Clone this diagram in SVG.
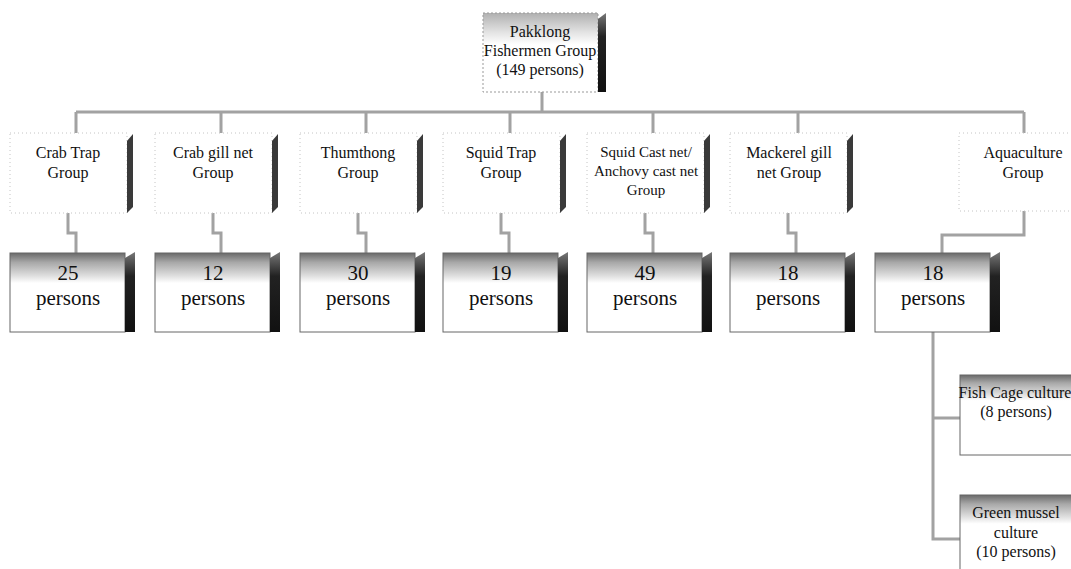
<svg xmlns="http://www.w3.org/2000/svg" width="1071" height="569" viewBox="0 0 1071 569" font-family="'Liberation Serif', 'Times New Roman', 'DejaVu Serif', serif">
<style>
text{font-family:'Liberation Serif','Times New Roman','DejaVu Serif',serif}
.t{font-size:16px;fill:#111;text-anchor:middle}
.p{font-size:21px;fill:#111;text-anchor:middle}
.grp{fill:#fff;stroke:#c4c4c4;stroke-width:1;stroke-dasharray:1 3}
.sh{fill:#3a3a3a}
.pb{fill:url(#pg);stroke:#666;stroke-width:1}
.cn{fill:none;stroke:#a2a2a2;stroke-width:3}
</style>
<defs>
<linearGradient id="pg" x1="0" y1="0" x2="0" y2="1">
<stop offset="0" stop-color="#6a6a6a"/>
<stop offset="0.12" stop-color="#a8a8a8"/>
<stop offset="0.3" stop-color="#e2e2e2"/>
<stop offset="0.38" stop-color="#fff"/>
<stop offset="1" stop-color="#fff"/>
</linearGradient>
<linearGradient id="fg" x1="0" y1="0" x2="0" y2="1">
<stop offset="0" stop-color="#6a6a6a"/>
<stop offset="0.1" stop-color="#a8a8a8"/>
<stop offset="0.25" stop-color="#e2e2e2"/>
<stop offset="0.32" stop-color="#fff"/>
<stop offset="1" stop-color="#fff"/>
</linearGradient>
<linearGradient id="tg" x1="0" y1="0" x2="0" y2="1">
<stop offset="0" stop-color="#b0b0b0"/>
<stop offset="0.25" stop-color="#e4e4e4"/>
<stop offset="0.4" stop-color="#fff"/>
<stop offset="1" stop-color="#fff"/>
</linearGradient>
<linearGradient id="sg" x1="0" y1="0" x2="0" y2="1">
<stop offset="0" stop-color="#777"/>
<stop offset="0.3" stop-color="#222"/>
<stop offset="1" stop-color="#111"/>
</linearGradient>
</defs>

<g id="connectors">
<path class="cn" d="M542 92V112M76 112H1024M76 112V133M221 112V133M366 112V133M510 112V133M653 112V133M798 112V133M1024 112V133"/>
<path class="cn" d="M68 213V233H76V253M213 213V233H221V253M358 213V233H366V253M501 213V233H509V253M645 213V233H653V253M788 213V233H796V253M1024 211V235H942V253"/>
<path class="cn" d="M933 332V539H960M933 418H960"/>
</g>

<g id="top">
<rect x="483" y="13" width="115" height="79" fill="url(#tg)" stroke="#999" stroke-width="1" stroke-dasharray="2 2"/>
<polygon points="598,19 606,13 606,92 598,92" fill="url(#sg)"/>
<text class="t" x="540" y="37">Pakklong</text>
<text class="t" x="540" y="56">Fishermen Group</text>
<text class="t" x="540" y="75">(149 persons)</text>
</g>

<g id="g1"><rect class="grp" x="10" y="133" width="117" height="80"/><polygon class="sh" points="127,141 133,134 133,207 127,213"/>
<text class="t" x="68" y="158">Crab Trap</text><text class="t" x="68" y="178">Group</text></g>
<g id="g2"><rect class="grp" x="155" y="133" width="117" height="80"/><polygon class="sh" points="272,141 278,134 278,207 272,213"/>
<text class="t" x="213" y="158">Crab gill net</text><text class="t" x="213" y="178">Group</text></g>
<g id="g3"><rect class="grp" x="300" y="133" width="117" height="80"/><polygon class="sh" points="417,141 423,134 423,207 417,213"/>
<text class="t" x="358" y="158">Thumthong</text><text class="t" x="358" y="178">Group</text></g>
<g id="g4"><rect class="grp" x="443" y="133" width="117" height="80"/><polygon class="sh" points="560,141 566,134 566,207 560,213"/>
<text class="t" x="501" y="158">Squid Trap</text><text class="t" x="501" y="178">Group</text></g>
<g id="g5"><rect class="grp" x="587" y="133" width="117" height="80"/><polygon class="sh" points="704,141 710,134 710,207 704,213"/>
<text class="t" x="646" y="157" style="font-size:15px">Squid Cast net/</text><text class="t" x="646" y="176" style="font-size:15px">Anchovy cast net</text><text class="t" x="646" y="195" style="font-size:15px">Group</text></g>
<g id="g6"><rect class="grp" x="730" y="133" width="117" height="80"/><polygon class="sh" points="847,141 853,134 853,207 847,213"/>
<text class="t" x="789" y="158">Mackerel gill</text><text class="t" x="789" y="178">net Group</text></g>
<g id="g7"><rect class="grp" x="959" y="133" width="130" height="78"/>
<text class="t" x="1023" y="158">Aquaculture</text><text class="t" x="1023" y="178">Group</text></g>

<g id="p1"><rect class="pb" x="10" y="253" width="115" height="79"/><polygon points="125,258 135,252 135,332 125,332" fill="url(#sg)"/>
<text class="p" x="68" y="280">25</text><text class="p" x="68" y="305">persons</text></g>
<g id="p2"><rect class="pb" x="155" y="253" width="115" height="79"/><polygon points="270,258 280,252 280,332 270,332" fill="url(#sg)"/>
<text class="p" x="213" y="280">12</text><text class="p" x="213" y="305">persons</text></g>
<g id="p3"><rect class="pb" x="300" y="253" width="115" height="79"/><polygon points="415,258 425,252 425,332 415,332" fill="url(#sg)"/>
<text class="p" x="358" y="280">30</text><text class="p" x="358" y="305">persons</text></g>
<g id="p4"><rect class="pb" x="443" y="253" width="115" height="79"/><polygon points="558,258 568,252 568,332 558,332" fill="url(#sg)"/>
<text class="p" x="501" y="280">19</text><text class="p" x="501" y="305">persons</text></g>
<g id="p5"><rect class="pb" x="587" y="253" width="115" height="79"/><polygon points="702,258 712,252 712,332 702,332" fill="url(#sg)"/>
<text class="p" x="645" y="280">49</text><text class="p" x="645" y="305">persons</text></g>
<g id="p6"><rect class="pb" x="730" y="253" width="115" height="79"/><polygon points="845,258 855,252 855,332 845,332" fill="url(#sg)"/>
<text class="p" x="788" y="280">18</text><text class="p" x="788" y="305">persons</text></g>
<g id="p7"><rect class="pb" x="875" y="253" width="115" height="79"/><polygon points="990,258 1000,252 1000,332 990,332" fill="url(#sg)"/>
<text class="p" x="933" y="280">18</text><text class="p" x="933" y="305">persons</text></g>

<g id="fish"><rect x="960" y="375" width="130" height="80" fill="url(#fg)" stroke="#666"/>
<text class="t" x="1015" y="398">Fish Cage culture</text><text class="t" x="1016" y="417">(8 persons)</text></g>
<g id="mussel"><rect x="960" y="495" width="130" height="90" fill="url(#fg)" stroke="#666"/>
<text class="t" x="1016" y="518">Green mussel</text><text class="t" x="1016" y="538">culture</text><text class="t" x="1016" y="557">(10 persons)</text></g>
</svg>
